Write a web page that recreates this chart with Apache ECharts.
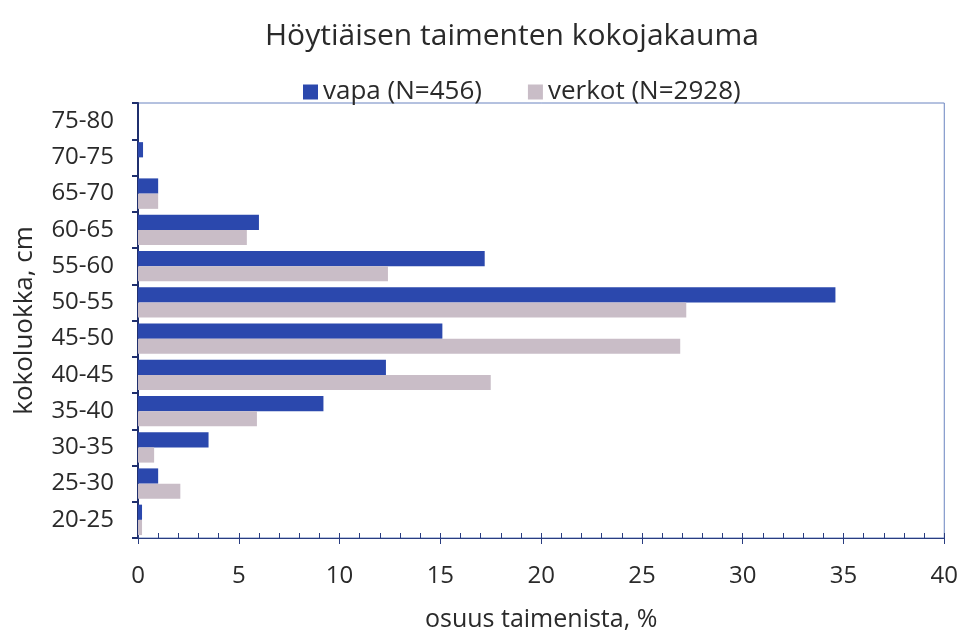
<!DOCTYPE html>
<html><head><meta charset="utf-8">
<script src="https://cdn.jsdelivr.net/npm/echarts@6/dist/echarts.min.js"></script>
<style>html,body{margin:0;padding:0;background:#fff}#c{width:961px;height:637px}</style>
</head><body><div id="c"></div>
<script>
const categories = ['20-25','25-30','30-35','35-40','40-45','45-50','50-55','55-60','60-65','65-70','70-75','75-80'];
const vapa = [0.2, 1.0, 3.5, 9.2, 12.3, 15.1, 34.6, 17.2, 6.0, 1.0, 0.25, 0];
const verkot = [0.2, 2.1, 0.8, 5.9, 17.5, 26.9, 27.2, 12.4, 5.4, 1.0, 0, 0];
const xTicks = [0, 5, 10, 15, 20, 25, 30, 35, 40];

const F = '"Open Sans", "Noto Sans", sans-serif';
const chart = echarts.init(document.getElementById('c'), null, {renderer:'canvas'});
chart.setOption({
  animation: false,
  backgroundColor: '#fff',
  title: { text: 'Höytiäisen taimenten kokojakauma', left: 260, top: 16,
    textStyle: { fontFamily: F, fontSize: 30, fontWeight: 'normal', color: '#2a2a2a' } },
  legend: { top: 74, left: 298, icon: 'rect', itemWidth: 15, itemHeight: 15, itemGap: 46,
    textStyle: { fontFamily: F, fontSize: 26, color: '#2a2a2a' },
    data: ['vapa (N=456)', 'verkot (N=2928)'] },
  grid: { left: 138, top: 103, right: 16, bottom: 99, show: true, borderColor: '#6a84c0', borderWidth: 1 },
  xAxis: [{
    type: 'value', min: 0, max: 40, interval: 5,
    name: 'osuus taimenista, %', nameLocation: 'middle', nameGap: 69,
    nameTextStyle: { fontFamily: F, fontSize: 25, color: '#2a2a2a' },
    axisLine: { show: true, lineStyle: { color: '#2a3d80', width: 1 } },
    axisTick: { show: true, length: 6, lineStyle: { color: '#2a3d80' } },
    axisLabel: { fontFamily: F, fontSize: 24, color: '#2a2a2a', margin: 26,
      formatter: v => xTicks.includes(v) ? String(v) : '' },
    splitLine: { show: false }
  }, {
    type: 'value', min: 0, max: 40, interval: 1, position: 'bottom',
    axisLine: { show: false },
    axisTick: { show: true, inside: true, length: 5, lineStyle: { color: '#2a3d80' } },
    axisLabel: { show: false }, splitLine: { show: false }
  }],
  yAxis: {
    type: 'category', data: categories,
    name: 'kokoluokka, cm', nameLocation: 'middle', nameGap: 100, nameRotate: 90,
    nameTextStyle: { fontFamily: F, fontSize: 26, color: '#2a2a2a' },
    axisLine: { show: true, lineStyle: { color: '#1f2f6e', width: 2 } },
    axisTick: { show: true, length: 6, lineStyle: { color: '#1f2f6e', width: 2 } },
    axisLabel: { fontFamily: F, fontSize: 24, color: '#2a2a2a', margin: 24 }
  },
  series: [
    { name: 'vapa (N=456)', type: 'bar', data: vapa, barGap: '0%', barCategoryGap: '16%',
      itemStyle: { color: '#2b48ad' } },
    { name: 'verkot (N=2928)', type: 'bar', data: verkot, barGap: '0%', barCategoryGap: '16%',
      itemStyle: { color: '#c9bdc7' } }
  ]
});
</script></body></html>
